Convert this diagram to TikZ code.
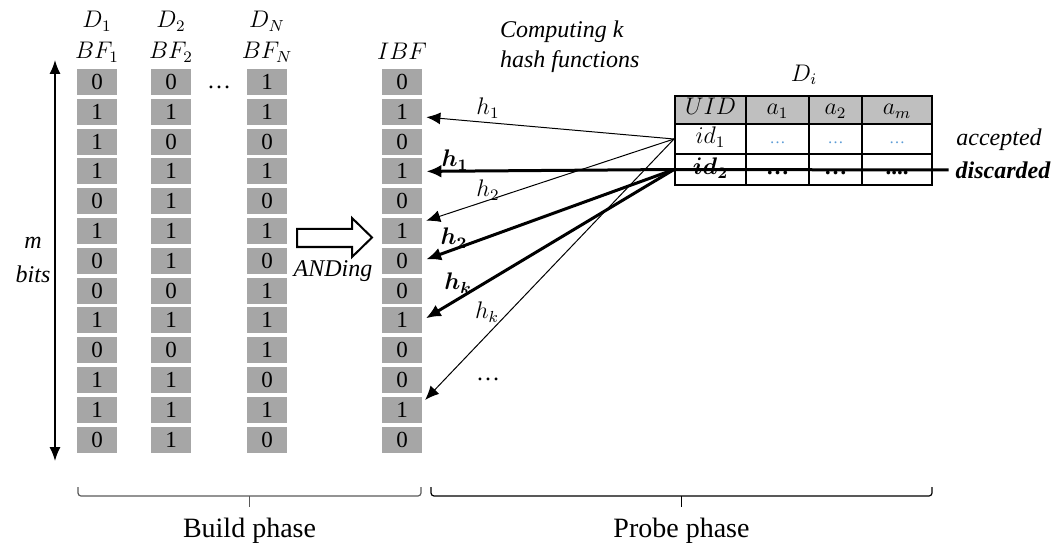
\documentclass[tikz,border=0pt]{standalone}
\usepackage{fontspec}
\setmainfont{Liberation Serif}
\usepackage{bm}
\usetikzlibrary{arrows.meta}
\definecolor{cellgray}{HTML}{A6A6A6}
\definecolor{hdrgray}{HTML}{BFBFBF}
\definecolor{dotblue}{HTML}{5B9BD5}
\begin{document}
\begin{tikzpicture}[x=0.5pt,y=-0.5pt,every node/.style={font=\fontsize{12}{14}\selectfont},
  bit/.style={fill=cellgray,minimum width=20pt,minimum height=13pt,inner sep=0pt,font=\fontsize{11.5}{13}\selectfont},
  tcell/.style={draw,line width=1pt,inner sep=0pt,text height=8pt,text depth=3pt,font=\fontsize{11.5}{13}\selectfont},
  thinarr/.style={line width=0.5pt,-{Latex[length=7pt,width=6pt]},shorten >=2pt},
  thickarr/.style={line width=1.5pt,-{Latex[length=7.5pt,width=6.5pt]},shorten >=2pt},
  lbl/.style={font=\fontsize{12}{15}\selectfont\itshape}]
\useasboundingbox (0,0) rectangle (1059,545);
% bloom filters
\foreach \v [count=\i from 0] in {0,1,1,1,0,1,0,0,1,0,1,1,0} {\node[bit] (bfa\i) at (97,{82+29.8*\i}) {\v};}
\foreach \v [count=\i from 0] in {0,1,0,1,1,1,1,0,1,0,1,1,1} {\node[bit] (bfb\i) at (171,{82+29.8*\i}) {\v};}
\foreach \v [count=\i from 0] in {1,1,0,1,0,1,0,1,1,1,0,1,0} {\node[bit] (bfn\i) at (267,{82+29.8*\i}) {\v};}
\foreach \v [count=\i from 0] in {0,1,0,1,0,1,0,0,1,0,0,1,0} {\node[bit] (ibf\i) at (402,{82+29.8*\i}) {\v};}
\node[anchor=base] (da) at (97,28) {$D_1$};
\node[anchor=base] (db) at (171,28) {$D_2$};
\node[anchor=base] (dn) at (267,28) {$D_N$};
\node[anchor=base] (bfalbl) at (97,59) {$BF_1$};
\node[anchor=base] (bfblbl) at (171,59) {$BF_2$};
\node[anchor=base] (bfnlbl) at (267,59) {$BF_N$};
\node[anchor=base] (ibflbl) at (402,60) {$IBF$};
\node (coldots) at (219,87) {\ldots};
% m bits
\coordinate (mtop) at (55,60);
\coordinate (mbot) at (55,461);
\draw[line width=0.75pt,{Latex[length=7pt,width=5.5pt]}-{Latex[length=7pt,width=5.5pt]}] (mtop) -- (mbot);
\node[lbl] (mlbl) at (33,243) {m};
\node[lbl] (bitslbl) at (33,274) {bits};
% ANDing
\draw[line width=1pt,fill=white] (297,229) -- (352,229) -- (352,218) -- (372,237.5) -- (352,257) -- (352,247) -- (297,247) -- cycle;
\node[lbl] (andlbl) at (333,271) {ANDing};
% probe table
\node[lbl,anchor=base west,align=left] (comp) at (493,68) {Computing k\\hash functions};
\node (dilbl) at (804,75) {$D_i$};
\node[tcell,fill=hdrgray,minimum width=35.5pt,minimum height=14pt] (uid) at (710.5,110) {$UID$};
\node[tcell,fill=hdrgray,minimum width=31.5pt,minimum height=14pt] (aone) at (777.5,110) {$a_1$};
\node[tcell,fill=hdrgray,minimum width=26.5pt,minimum height=14pt] (atwo) at (835.5,110) {$a_2$};
\node[tcell,fill=hdrgray,minimum width=35pt,minimum height=14pt] (am) at (897,110) {$a_m$};
\node[tcell,minimum width=35.5pt,minimum height=15pt] (idone) at (710.5,139) {$id_1$};
\node[tcell,minimum width=31.5pt,minimum height=15pt,text=dotblue,font=\fontsize{8}{9}\selectfont] (rowa1) at (777.5,139) {\ldots};
\node[tcell,minimum width=26.5pt,minimum height=15pt,text=dotblue,font=\fontsize{8}{9}\selectfont] (rowa2) at (835.5,139) {\ldots};
\node[tcell,minimum width=35pt,minimum height=15pt,text=dotblue,font=\fontsize{8}{9}\selectfont] (rowa3) at (897,139) {\ldots};
\node[tcell,minimum width=35.5pt,minimum height=15.5pt] (idtwo) at (710.5,169.5) {$\bm{id_2}$};
\node[tcell,minimum width=31.5pt,minimum height=15.5pt] (rowb1) at (777.5,169.5) {\textbf{\ldots}};
\node[tcell,minimum width=26.5pt,minimum height=15.5pt] (rowb2) at (835.5,169.5) {\textbf{\ldots}};
\node[tcell,minimum width=35pt,minimum height=15.5pt] (rowb3) at (897,169.5) {\textbf{....}};
\node[lbl] (acc) at (999,140) {accepted};
\node[lbl,font=\fontsize{12}{14}\selectfont\bfseries\itshape] (disc) at (1003,170) {discarded};
\draw[line width=1.5pt] (idtwo.west) -- (disc.west);
% hash arrows
\draw[thinarr] (idone.west) -- ([yshift=-2.5pt]ibf1.east);
\draw[thinarr] (idone.west) -- ([yshift=4.5pt]ibf5.east);
\draw[thinarr] (idone.west) -- ([yshift=3.5pt]ibf11.east);
\draw[thickarr] (idtwo.west) -- (ibf3.east);
\draw[thickarr] (idtwo.west) -- (ibf6.east);
\draw[thickarr] (idtwo.west) -- (ibf8.east);
\node (hone) at (488,108) {$h_1$};
\node (htwo) at (488,190) {$h_2$};
\node (hk) at (487,312) {$h_k$};
\node (hdots) at (488,379) {\ldots};
\node (bhone) at (455,160) {$\bm{h_1}$};
\node (bhtwo) at (454,238) {$\bm{h_2}$};
\node (bhk) at (458,283) {$\bm{h_k}$};
% phases
\draw[line width=0.6pt,gray!70!black,rounded corners=1.5pt] (78,487) |- (249.5,496) -| (421,487);
\draw[line width=0.6pt,gray!70!black] (249.5,496) -- (249.5,507);
\draw[line width=0.6pt,rounded corners=1.5pt] (431,487) |- (681.5,496) -| (932,487);
\draw[line width=0.6pt] (681.5,496) -- (681.5,507);
\node[anchor=base,font=\fontsize{14}{16}\selectfont] (build) at (249.5,537) {Build phase};
\node[anchor=base,font=\fontsize{14}{16}\selectfont] (probe) at (681.5,537) {Probe phase};
\end{tikzpicture}
\end{document}
